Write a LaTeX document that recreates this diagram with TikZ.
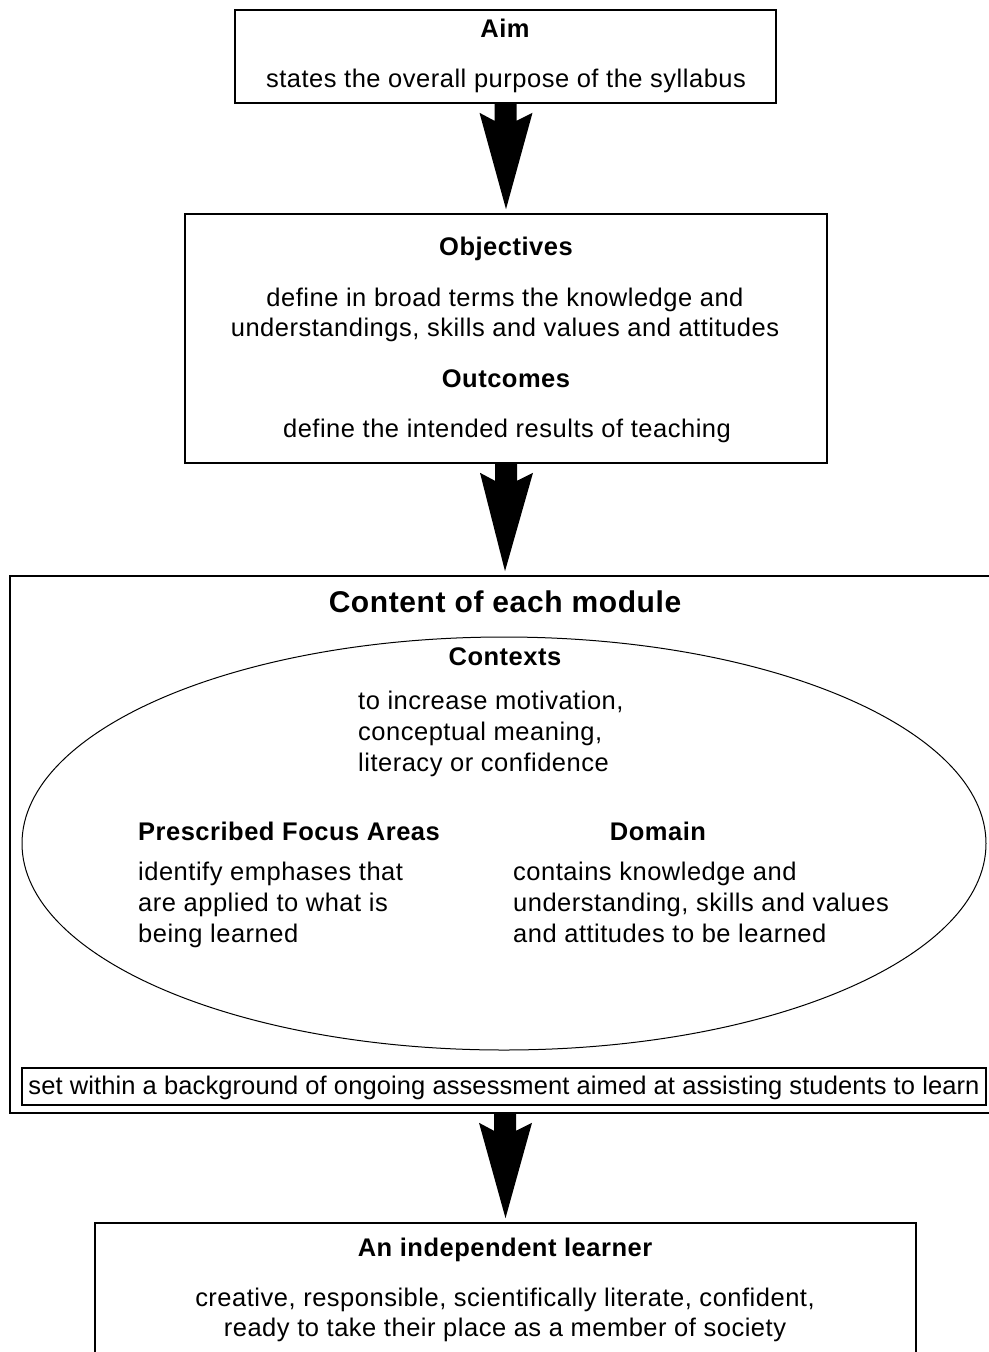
\documentclass[tikz,border=0pt]{standalone}
\usepackage{fontspec}
\setmainfont{Liberation Sans}[LetterSpace=2]
\newfontfamily\tightfont{Liberation Sans}[LetterSpace=0.4]
\usetikzlibrary{calc,shapes.geometric}
\newcommand\fatarrow[2]{%
  \fill ($(#1.south)+(-11,0)$) -- ($(#1.south)+(-11,17)$) -- ($(#1.south)+(-26,9)$)
     -- ($(#2.north)+(0,-4)$) -- ($(#1.south)+(27,9)$) -- ($(#1.south)+(11,17)$)
     -- ($(#1.south)+(11,0)$) -- cycle;}
\begin{document}
\begin{tikzpicture}[x=1pt,y=-1pt,
  box/.style={draw, line width=1.6pt, rectangle, inner sep=0pt},
  body/.style={font=\fontsize{25.5}{30}\selectfont, inner sep=0pt},
  head/.style={font=\fontsize{25.5}{30}\selectfont\bfseries, inner sep=0pt},
  bigh/.style={font=\fontsize{30}{34}\selectfont\bfseries, inner sep=0pt}]
\useasboundingbox (0,0) rectangle (988,1352);
\fill[white] (0,0) rectangle (988,1352);
% boxes
\node[box, minimum width=541pt, minimum height=93pt] (aim) at (505.5,56.5) {};
\node[box, minimum width=642pt, minimum height=249pt] (obj) at (506,338.5) {};
\node[box, minimum width=990pt, minimum height=537pt] (cont) at (505,844.5) {};
\node[box, line width=1.3pt, minimum width=964pt, minimum height=37pt] (set) at (504,1086.5) {};
\node[box, minimum width=821pt, minimum height=157pt] (ind) at (505.5,1301.5) {};
\node[draw, ellipse, line width=1pt, minimum width=964pt, minimum height=413pt, inner sep=0pt] (ell) at (504,843.5) {};
% arrows
\fatarrow{aim}{obj}
\fatarrow{obj}{cont}
\fatarrow{cont}{ind}
% texts
\node[head, anchor=base] (aimT) at (505,37) {Aim};
\node[body, anchor=base] (aimD) at (506,87) {states the overall purpose of the syllabus};
\node[head, anchor=base] (objT) at (506,255) {Objectives};
\node[body, anchor=base] (obj1) at (505,306) {define in broad terms the knowledge and};
\node[body, anchor=base] (obj2) at (505,336) {understandings, skills and values and attitudes};
\node[head, anchor=base] (outT) at (506,387) {Outcomes};
\node[body, anchor=base] (out1) at (507,437) {define the intended results of teaching};
\node[bigh, anchor=base] (contT) at (505,612) {Content of each module};
\node[head, anchor=base] (ctxT) at (505,665) {Contexts};
\node[body, anchor=base west] (ctx1) at (358,709) {to increase motivation,};
\node[body, anchor=base west] (ctx2) at (358,740) {conceptual meaning,};
\node[body, anchor=base west] (ctx3) at (358,771) {literacy or confidence};
\node[head, anchor=base west] (pfaT) at (138,840) {Prescribed Focus Areas};
\node[body, anchor=base west] (pfa1) at (138,880) {identify emphases that};
\node[body, anchor=base west] (pfa2) at (138,911) {are applied to what is};
\node[body, anchor=base west] (pfa3) at (138,942) {being learned};
\node[head, anchor=base] (domT) at (658,840) {Domain};
\node[body, anchor=base west] (dom1) at (513,880) {contains knowledge and};
\node[body, anchor=base west] (dom2) at (513,911) {understanding, skills and values};
\node[body, anchor=base west] (dom3) at (513,942) {and attitudes to be learned};
\node[body, font=\fontsize{25.5}{30}\tightfont, anchor=base] (setT) at (504,1094) {set within a background of ongoing assessment aimed at assisting students to learn};
\node[head, anchor=base] (indT) at (505,1256) {An independent learner};
\node[body, anchor=base] (ind1) at (505,1306) {creative, responsible, scientifically literate, confident,};
\node[body, anchor=base] (ind2) at (505,1336) {ready to take their place as a member of society};
\end{tikzpicture}
\end{document}
